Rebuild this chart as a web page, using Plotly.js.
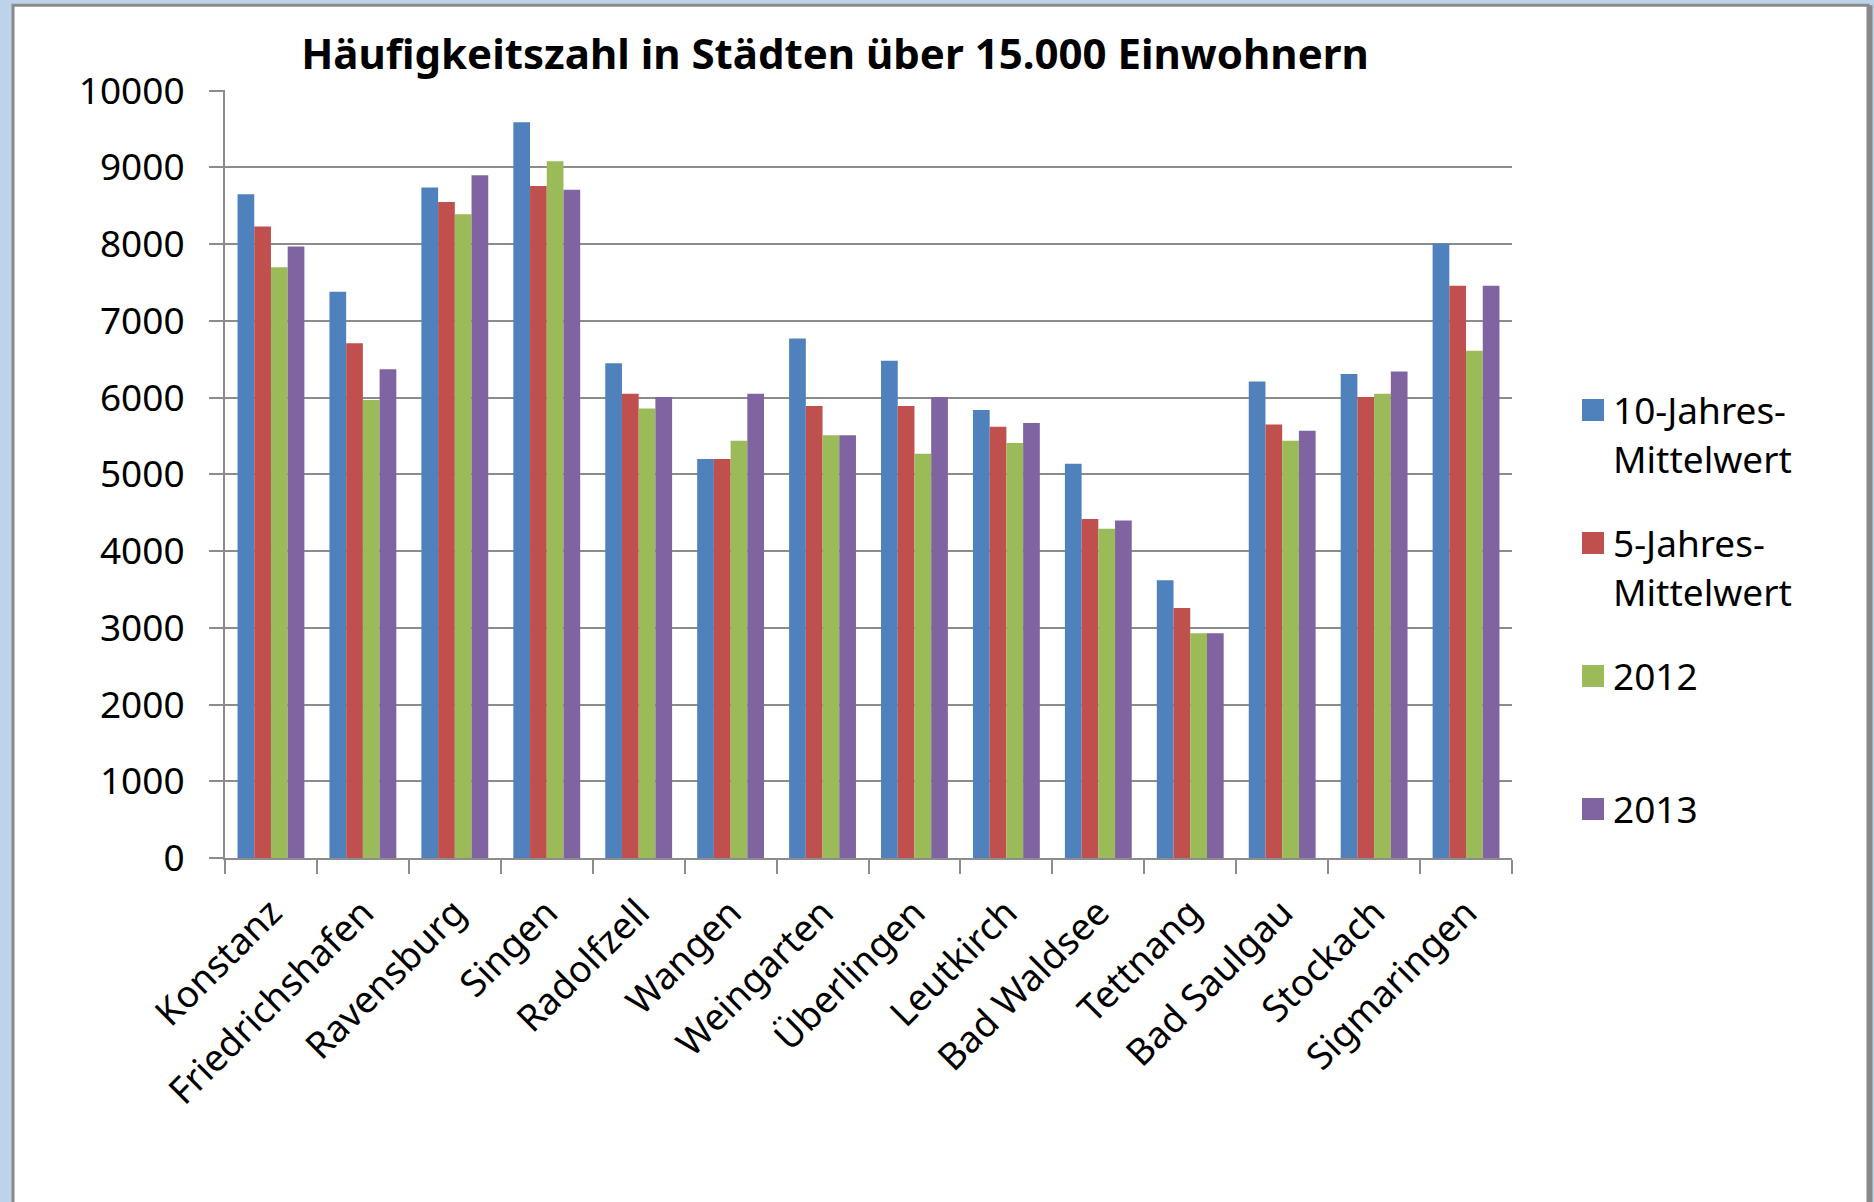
<!DOCTYPE html>
<html>
<head>
<meta charset="utf-8">
<script src="https://cdn.plot.ly/plotly-3.0.1.min.js"></script>
<style>html,body{margin:0;padding:0;background:#BCD3EA;} #chart{width:1874px;height:1202px;}</style>
</head>
<body>
<div id="chart"></div>
<script>
var cities = ['Konstanz','Friedrichshafen','Ravensburg','Singen','Radolfzell','Wangen','Weingarten','Überlingen','Leutkirch','Bad Waldsee','Tettnang','Bad Saulgau','Stockach','Sigmaringen'];
var mittel10 = [8650, 7380, 8740, 9590, 6450, 5200, 6770, 6480, 5840, 5140, 3620, 6210, 6310, 8010];
var mittel5  = [8230, 6710, 8550, 8760, 6050, 5200, 5890, 5890, 5620, 4420, 3260, 5650, 6010, 7460];
var jahr2012 = [7700, 5970, 8390, 9080, 5860, 5440, 5510, 5270, 5410, 4290, 2930, 5440, 6050, 6610];
var jahr2013 = [7970, 6370, 8900, 8710, 6010, 6050, 5510, 6010, 5670, 4400, 2930, 5570, 6340, 7460];
var seriesNames = ['10-Jahres-<br>Mittelwert', '5-Jahres-<br>Mittelwert', '2012', '2013'];
var seriesColors = ['#4F81BD', '#C0504D', '#9BBB59', '#8064A2'];
var yTicks = [0,1000,2000,3000,4000,5000,6000,7000,8000,9000,10000];

var FONT = 'Noto Sans, Open Sans, sans-serif';
var allValues = [mittel10, mittel5, jahr2012, jahr2013];
var legendIds = ['legend', 'legend2', 'legend3', 'legend4'];
var traces = allValues.map(function(vals, i){
  return {
    type: 'bar', x: cities, y: vals, name: seriesNames[i],
    marker: {color: seriesColors[i], line: {width: 0}},
    legend: legendIds[i],
    hoverinfo: 'x+y'
  };
});

function legendCfg(y){
  return {
    x: 1.0474, xanchor: 'left', y: y, yanchor: 'top',
    bgcolor: 'rgba(0,0,0,0)', borderwidth: 0,
    font: {family: FONT, size: 37, color: '#000'},
    valign: 'top', traceorder: 'normal'
  };
}

var layout = {
  width: 1874, height: 1202,
  paper_bgcolor: '#BCD3EA',
  plot_bgcolor: 'rgba(0,0,0,0)',
  margin: {l: 225, r: 362, t: 90, b: 344, pad: 0},
  barmode: 'group',
  bargap: 0.2727, bargroupgap: 0,
  title: {
    text: '<b>Häufigkeitszahl in Städten über 15.000 Einwohnern</b>',
    font: {family: FONT, size: 42, color: '#000'},
    x: 835/1874, xanchor: 'center', xref: 'container',
    y: 1 - 54/1202, yanchor: 'middle', yref: 'container'
  },
  xaxis: {
    type: 'category',
    tickson: 'boundaries',
    ticks: 'outside', ticklen: 14, tickwidth: 2, tickcolor: '#8C8C8C',
    showline: true, linecolor: '#8C8C8C', linewidth: 2,
    showgrid: false, zeroline: false,
    tickangle: -45,
    ticklabelstandoff: 16,
    tickfont: {family: FONT, size: 37, color: '#000'},
    fixedrange: true
  },
  yaxis: {
    range: [0, 10010], tickvals: yTicks, ticktext: yTicks.map(String),
    ticks: 'outside', ticklen: 14, tickwidth: 2, tickcolor: '#8C8C8C',
    showline: true, linecolor: '#8C8C8C', linewidth: 2,
    showgrid: true, gridcolor: '#8C8C8C', gridwidth: 2,
    zeroline: false,
    ticklabelstandoff: 17,
    tickfont: {family: FONT, size: 37, color: '#000'},
    fixedrange: true
  },
  legend: legendCfg(0.6231),
  legend2: legendCfg(0.4499),
  legend3: legendCfg(0.2767),
  legend4: legendCfg(0.1035),
  shapes: [
    {type: 'rect', xref: 'paper', yref: 'paper', layer: 'below',
     x0: (13-225)/1287, x1: (1868-225)/1287, y0: (858.3-1230)/767.6, y1: (858.3-6)/767.6,
     fillcolor: '#FFFFFF', line: {color: '#8A8A8A', width: 3}},
    {type: 'line', xref: 'paper', yref: 'paper', layer: 'below',
     x0: (1870-225)/1287, x1: (1870-225)/1287, y0: (858.3-1230)/767.6, y1: (858.3-6)/767.6,
     line: {color: '#888888', width: 5}}
  ],
  showlegend: true
};

Plotly.newPlot('chart', traces, layout, {displayModeBar: false, staticPlot: true}).then(function(gd){
  // enlarge the legend swatches to match the reference's square keys
  var paths = gd.querySelectorAll('.legendpoints path');
  for (var i = 0; i < paths.length; i++) {
    paths[i].setAttribute('d', 'M11,11H-11V-11H11Z');
  }
});
</script>
</body>
</html>
